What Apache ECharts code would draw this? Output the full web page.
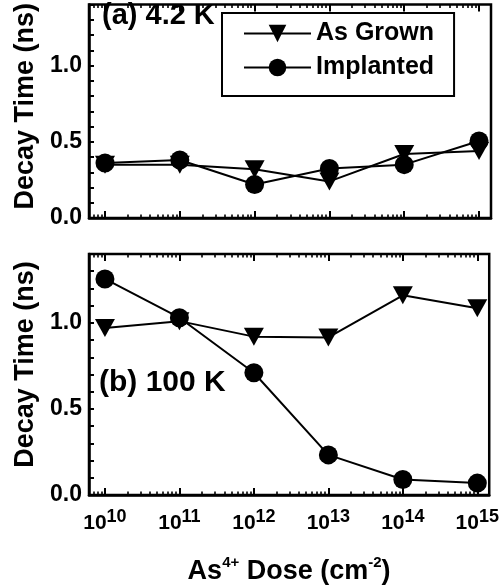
<!DOCTYPE html>
<html><head><meta charset="utf-8">
<script src="https://cdn.jsdelivr.net/npm/echarts@6/dist/echarts.min.js"></script>
<style>html,body{margin:0;padding:0;background:#fff}#c{width:502px;height:586px}</style>
</head><body><div id="c"></div>
<script>
// ---- data ----
const doseExponents = [10, 11, 12, 13, 14, 15];           // As4+ dose = 10^e cm^-2
const asGrown42K    = [0.35, 0.35, 0.32, 0.24, 0.42, 0.44];
const implanted42K  = [0.36, 0.38, 0.22, 0.325, 0.35, 0.505];
const asGrown100K   = [0.97, 1.01, 0.92, 0.915, 1.16, 1.085];
const implanted100K = [1.255, 1.03, 0.71, 0.233, 0.09, 0.069];
const seriesNames   = ['As Grown', 'Implanted'];
const panelLabels   = ['(a) 4.2 K', '(b) 100 K'];
const yAxisTitle    = 'Decay Time (ns)';
const minorMultipliers = [2, 3, 4, 5, 6, 7, 8, 9];

// ---- layout / style ----
const FONT = "'Liberation Sans', Arial, sans-serif";
const X_MIN = 9.786, X_MAX = 15.16;
const grids = [
  {left: 89, width: 402, top: -21, height: 239},
  {left: 89, width: 402, top: 254, height: 244}
];
const BW = 2.5;

const xAxes = [];
const yAxes = [];
function mainX(gi, position, labels) {
  xAxes.push({
    type: 'value', gridIndex: gi, position: position, min: X_MIN, max: X_MAX, splitNumber: 5,
    axisLine: {show: position === 'bottom', onZero: false, lineStyle: {color: '#000', width: BW}},
    axisTick: {show: true, inside: true, length: 7, lineStyle: {color: '#000', width: 2}},
    splitLine: {show: false},
    axisLabel: {
      show: labels, margin: 13, color: '#000', showMinLabel: true, showMaxLabel: true,
      formatter: v => (Math.abs(v - Math.round(v)) < 1e-6 ? '{b|10}{s|' + Math.round(v) + '}' : ''),
      rich: {
        b: {fontFamily: FONT, fontWeight: 'bold', fontSize: 21, color: '#000', lineHeight: 26, verticalAlign: 'bottom'},
        s: {fontFamily: FONT, fontWeight: 'bold', fontSize: 18, color: '#000', lineHeight: 26, verticalAlign: 'top'}
      }
    },
    name: labels ? '{n|As}{s|4+}{n| Dose (cm}{s|-2}{n|)}' : '',
    nameLocation: 'middle', nameGap: 60,
    nameTextStyle: {
      rich: {
        n: {fontFamily: FONT, fontWeight: 'bold', fontSize: 27, color: '#000', lineHeight: 30, verticalAlign: 'bottom'},
        s: {fontFamily: FONT, fontWeight: 'bold', fontSize: 15, color: '#000', lineHeight: 30, verticalAlign: 'top'}
      }
    }
  });
  return xAxes.length - 1;
}
function minorX(gi, position) {
  minorMultipliers.forEach(k => {
    const off = Math.log10(k);
    xAxes.push({
      type: 'value', gridIndex: gi, position: position, min: X_MIN - off, max: X_MAX - off, splitNumber: 5,
      axisLine: {show: false, onZero: false},
      axisTick: {show: true, inside: true, length: 3.5, lineStyle: {color: '#000', width: 1.6}},
      axisLabel: {show: false}, splitLine: {show: false}
    });
  });
}
function mainY(gi, namePad) {
  yAxes.push({
    type: 'value', gridIndex: gi, min: 0, max: 1.4, interval: 0.5,
    axisLine: {show: true, onZero: false, lineStyle: {color: '#000', width: BW}},
    axisTick: {show: true, inside: true, length: 5, lineStyle: {color: '#000', width: 2}},
    minorTick: {show: true, splitNumber: 5, length: 5, lineStyle: {color: '#000', width: 2}},
    splitLine: {show: false},
    axisLabel: {showMaxLabel: false, margin: 7, color: '#000', fontFamily: FONT, fontWeight: 'bold', fontSize: 23,
      formatter: v => v.toFixed(1)},
    name: yAxisTitle, nameLocation: 'middle', nameGap: 44,
    nameTextStyle: {fontFamily: FONT, fontWeight: 'bold', fontSize: 27, color: '#000', padding: namePad}
  });
  return yAxes.length - 1;
}

const xa = mainX(0, 'bottom', false);
mainX(0, 'top', false);
minorX(0, 'bottom'); minorX(0, 'top');
const xb = mainX(1, 'bottom', true);
mainX(1, 'top', false);
minorX(1, 'bottom'); minorX(1, 'top');
const ya = mainY(0, [0, 0, 0, 10]);
const yb = mainY(1, [0, 0, 0, 20]);

const triangleDown = 'path://M0,0 L20,0 L10,18 Z';
function mk(name, xi, yi, vals) {
  const tri = name === seriesNames[0];
  return {
    name: name, type: 'line', xAxisIndex: xi, yAxisIndex: yi,
    data: doseExponents.map((e, i) => [e, vals[i]]),
    symbol: tri ? triangleDown : 'circle',
    symbolSize: tri ? [20, 18] : 19,
    showAllSymbol: true, clip: false,
    lineStyle: {color: '#000', width: 2},
    itemStyle: {color: '#000'},
    emphasis: {disabled: true}, animation: false
  };
}

const option = {
  backgroundColor: '#fff',
  animation: false,
  grid: grids.map(g => Object.assign({show: true, borderColor: '#000', borderWidth: BW, backgroundColor: 'transparent'}, g)),
  xAxis: xAxes,
  yAxis: yAxes,
  title: [
    {text: panelLabels[0], left: 102, top: 1, padding: 0,
     textStyle: {fontFamily: FONT, fontWeight: 'bold', fontSize: 29, color: '#000'}},
    {text: panelLabels[1], left: 99, top: 368, padding: 0,
     textStyle: {fontFamily: FONT, fontWeight: 'bold', fontSize: 30, color: '#000'}}
  ],
  legend: {
    data: seriesNames, orient: 'vertical', left: 222, top: 13,
    padding: [8, 20, 16, 21], itemGap: 9, itemWidth: 67, itemHeight: 22,
    borderColor: '#000', borderWidth: 2, backgroundColor: '#fff',
    textStyle: {fontFamily: FONT, fontWeight: 'bold', fontSize: 25, color: '#000'},
    selectedMode: false
  },
  series: [
    mk(seriesNames[0], xa, ya, asGrown42K),
    mk(seriesNames[1], xa, ya, implanted42K),
    mk(seriesNames[0], xb, yb, asGrown100K),
    mk(seriesNames[1], xb, yb, implanted100K)
  ]
};
const chart = echarts.init(document.getElementById('c'), null, {renderer: 'canvas'});
chart.setOption(option);
</script></body></html>
